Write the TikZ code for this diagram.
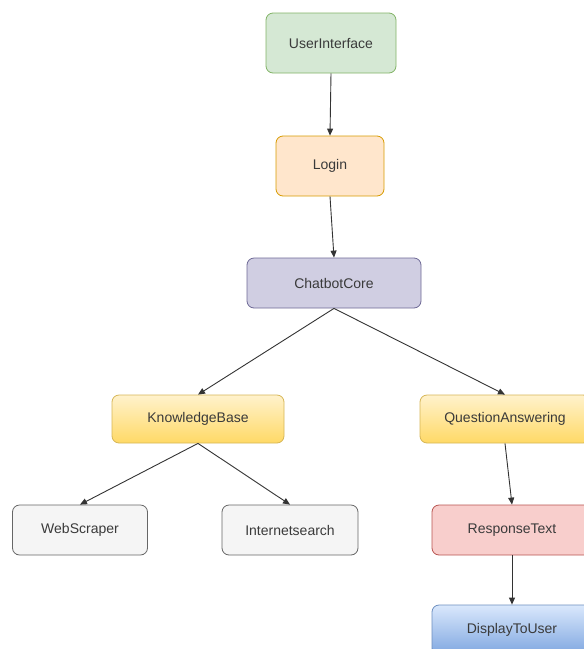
\documentclass[tikz,border=0pt]{standalone}
\usepackage{fontspec}
\setmainfont{Liberation Sans}
\usetikzlibrary{arrows.meta}
\definecolor{txt}{HTML}{3A3A3A}
\begin{document}
\begin{tikzpicture}[x=1pt,y=-1pt,
  box/.style={rectangle, rounded corners=7pt, line width=0.8pt, inner sep=0pt,
    font=\fontsize{14}{16}\selectfont, text=txt},
  green/.style={box, fill={rgb,255:red,213;green,232;blue,212}, draw={rgb,255:red,130;green,179;blue,102}},
  orange/.style={box, fill={rgb,255:red,255;green,230;blue,204}, draw={rgb,255:red,215;green,155;blue,0}},
  purple/.style={box, fill={rgb,255:red,208;green,206;blue,226}, draw={rgb,255:red,110;green,105;blue,150}},
  yellow/.style={box, top color={rgb,255:red,255;green,242;blue,204}, bottom color={rgb,255:red,255;green,217;blue,102}, draw={rgb,255:red,214;green,182;blue,86}},
  grey/.style={box, fill={rgb,255:red,245;green,245;blue,245}, draw={rgb,255:red,102;green,102;blue,102}},
  red/.style={box, fill={rgb,255:red,248;green,206;blue,204}, draw={rgb,255:red,184;green,84;blue,80}},
  blue/.style={box, top color={rgb,255:red,218;green,232;blue,252}, bottom color={rgb,255:red,126;green,166;blue,224}, draw={rgb,255:red,108;green,142;blue,191}},
  conn/.style={draw={rgb,255:red,51;green,51;blue,51}, line width=0.9pt, -{Triangle[length=7pt,width=6pt]}}
]
\useasboundingbox (0,0) rectangle (584,649);
\node[green, minimum width=130, minimum height=60] (ui) at (331,43) {UserInterface};
\node[orange, minimum width=108, minimum height=60] (login) at (330,166) {Login};
\node[purple, minimum width=174, minimum height=50] (core) at (334,283) {ChatbotCore};
\node[yellow, minimum width=172, minimum height=48] (kb) at (198,419) {KnowledgeBase};
\node[yellow, minimum width=170, minimum height=48] (qa) at (505,419) {QuestionAnswering};
\node[grey, minimum width=135, minimum height=50] (ws) at (80,530) {WebScraper};
\node[grey, minimum width=136, minimum height=50] (is) at (290,530) {Internetsearch};
\node[red, minimum width=160, minimum height=50] (rt) at (512,530) {ResponseText};
\node[blue, minimum width=160, minimum height=50] (du) at (512,630) {DisplayToUser};
\draw[conn] (ui.south) -- (login.north);
\draw[conn] (login.south) -- (core.north);
\draw[conn] (core.south) -- (kb.north);
\draw[conn] (core.south) -- (qa.north);
\draw[conn] (kb.south) -- (ws.north);
\draw[conn] (kb.south) -- (is.north);
\draw[conn] (qa.south) -- (rt.north);
\draw[conn] (rt.south) -- (du.north);
\end{tikzpicture}
\end{document}
